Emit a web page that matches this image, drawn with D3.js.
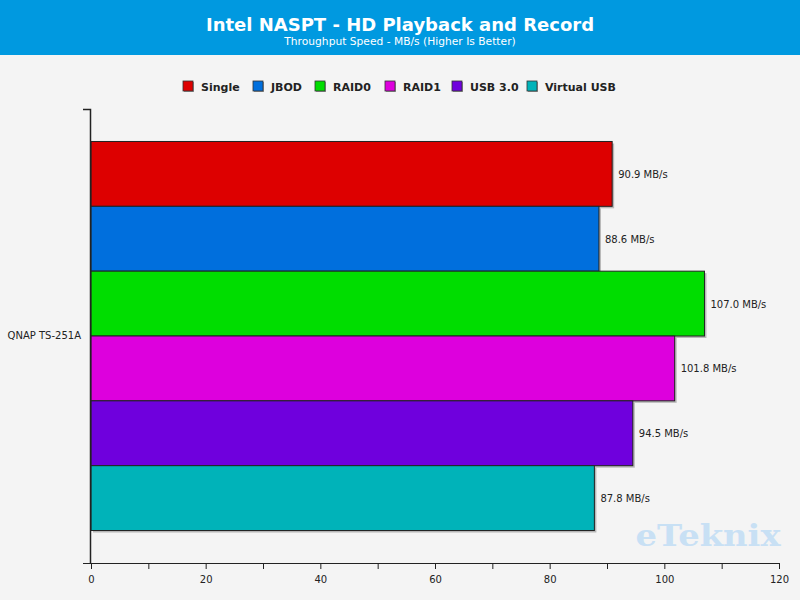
<!DOCTYPE html>
<html><head><meta charset="utf-8">
<script src="https://cdn.jsdelivr.net/npm/d3@7"></script>
<style>body{margin:0;background:#f4f4f4}svg{display:block}</style>
</head><body>
<svg id="c" width="800" height="600"></svg>
<script>
const categories = ["QNAP TS-251A"];
const seriesNames = ["Single","JBOD","RAID0","RAID1","USB 3.0","Virtual USB"];
const seriesValues = [90.9, 88.6, 107.0, 101.8, 94.5, 87.8];
const seriesColors = ["#dd0000","#006fdd","#00dd00","#dd00dd","#6f00dd","#00b3b9"];
const xTicks = [0,20,40,60,80,100,120];
const title = "Intel NASPT - HD Playback and Record";
const subtitle = "Throughput Speed - MB/s (Higher Is Better)";

const svg = d3.select("#c");
const font = "'DejaVu Sans', Verdana, sans-serif";
svg.append("rect").attr("width",800).attr("height",600).attr("fill","#f4f4f4");
svg.append("rect").attr("width",800).attr("height",55).attr("fill","#0099e0");
svg.append("text").attr("x",400).attr("y",31).attr("text-anchor","middle")
  .attr("font-family",font).attr("font-weight","bold").attr("font-size",18).attr("fill","#fff").text(title);
svg.append("text").attr("x",400).attr("y",45).attr("text-anchor","middle")
  .attr("font-family",font).attr("font-size",10.7).attr("fill","#fff").text(subtitle);

// legend
const legendX = [183,253,315,385,452,527];
const lg = svg.append("g");
seriesNames.forEach((n,i)=>{
  const x = legendX[i];
  lg.append("rect").attr("x",x+1).attr("y",82).attr("width",10).attr("height",10).attr("fill","#999");
  lg.append("rect").attr("x",x).attr("y",81).attr("width",10).attr("height",10).attr("fill",seriesColors[i]).attr("stroke","#333").attr("stroke-width",0.8);
  lg.append("text").attr("x",x+18).attr("y",91).attr("font-family",font).attr("font-weight","bold")
    .attr("font-size",11).attr("fill","#222").text(n);
});

const x = d3.scaleLinear().domain([0,120]).range([91,779]);
const y0 = d3.scaleBand().domain(categories).range([109,563]).paddingInner(0).paddingOuter(0.0835);
const y1 = d3.scaleBand().domain(seriesNames).range([0,y0.bandwidth()]);

const g = svg.append("g");
categories.forEach(c=>{
  seriesNames.forEach((n,i)=>{
    const yy = y0(c)+y1(n);
    g.append("rect").attr("x",x(0)+2).attr("y",yy+2).attr("width",x(seriesValues[i])-x(0)).attr("height",y1.bandwidth())
      .attr("fill","#b8b8b8");
  });
  seriesNames.forEach((n,i)=>{
    const yy = y0(c)+y1(n);
    g.append("rect").attr("x",x(0)).attr("y",yy).attr("width",x(seriesValues[i])-x(0)).attr("height",y1.bandwidth())
      .attr("fill",seriesColors[i]).attr("stroke","#222").attr("stroke-width",1);
    g.append("text").attr("x",x(seriesValues[i])+6).attr("y",yy+y1.bandwidth()/2+4)
      .attr("font-family",font).attr("font-size",10).attr("fill","#222")
      .text(seriesValues[i].toFixed(1)+" MB/s");
  });
});

// axes
const xa = svg.append("g").attr("transform","translate(0,563)")
  .call(d3.axisBottom(x).tickValues(d3.range(0,121,10)).tickSize(6).tickFormat(d=>xTicks.includes(d)?d:""));
xa.select(".domain").attr("d","M83,0.5H779").attr("stroke","#222");
xa.selectAll(".tick line").attr("stroke","#222");
xa.selectAll(".tick text").attr("font-family",font).attr("font-size",10).attr("fill","#222").attr("dy","1.1em");

const ya = svg.append("g").attr("transform","translate(91,0)")
  .call(d3.axisLeft(y0).tickSize(0));
ya.select(".domain").attr("d","M-8,109.5H-0.5V563").attr("stroke","#222").attr("stroke-width",1.5);
ya.selectAll(".tick text").attr("font-family",font).attr("font-size",10).attr("fill","#222").attr("dx","-7");

// watermark
svg.append("text").attr("x",708).attr("y",546).attr("text-anchor","middle")
  .attr("font-family","'DejaVu Serif', serif").attr("font-weight","bold").attr("font-size",30)
  .attr("textLength",145).attr("lengthAdjust","spacingAndGlyphs")
  .attr("fill","#c8e0f4").text("eTeknix");
</script>
</body></html>
